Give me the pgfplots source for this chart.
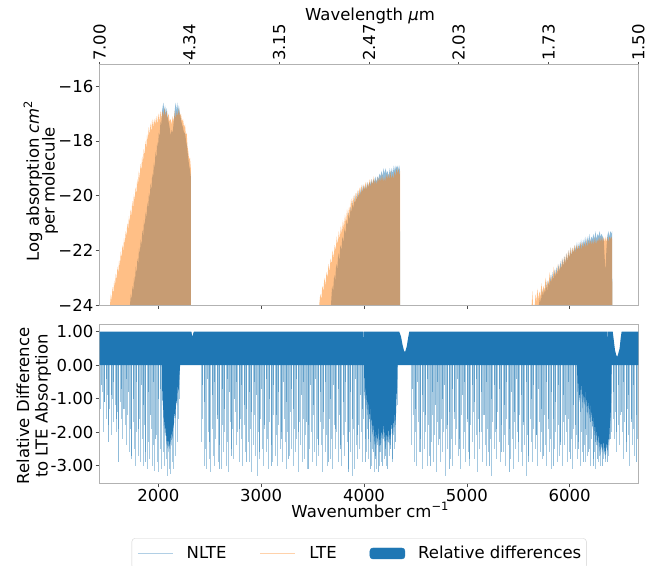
\documentclass[border=0pt]{standalone}
\usepackage{pgfplots}
\pgfplotsset{compat=1.18}
\usepackage{fontspec}
\setmainfont{DejaVu Sans}
\definecolor{tabblue}{HTML}{1F77B4}
\definecolor{taborange}{HTML}{FF7F0E}
\newcommand{\fs}{\fontsize{16.5}{19}\selectfont}
\begin{document}
\begin{tikzpicture}[x=1pt,y=1pt]
\useasboundingbox (0pt,0pt) rectangle (666pt,565pt);
\pgfplotsset{myax/.style={
  scale only axis, width=538.8pt,
  xmin=1428.57, xmax=6666.67,
  axis line style={black!30, line width=0.8pt},
  every tick/.style={black!70, line width=0.7pt},
  tick align=outside, major tick length=4pt,
  ticklabel style={font=\fs},
  yticklabel style={inner xsep=2pt},
  xticklabel style={inner ysep=1.5pt},
  /pgf/number format/assume math mode=true,
}}
% ---------------- top panel ----------------
\begin{axis}[myax, at={(99.5pt,260pt)}, anchor=south west, height=241pt,
  ymin=-24, ymax=-15.19,
  ytick={-24,-22,-20,-18,-16}, yticklabels={−24,−22,−20,−18,−16},
  xtick={2000,3000,4000,5000,6000}, xticklabel=\empty,
  xtick pos=left, ytick pos=left]
% NLTE
\addplot[fill=tabblue, fill opacity=0.5, draw=none] coordinates {
(1725,-24) (1733,-23.6) (1741,-23.8) (1749,-23.3) (1757,-23.5) (1765,-22.95) (1773,-23.2) (1781,-22.6) (1789,-22.85) (1797,-22.3) (1805,-22.5) (1813,-21.9) (1821,-22.15) (1829,-21.6) (1837,-21.85) (1845,-21.25) (1853,-21.5) (1861,-20.9) (1869,-21.15) (1877,-20.6) (1885,-20.8) (1893,-20.25) (1901,-20.5) (1909,-19.9) (1917,-20.1) (1925,-19.55) (1933,-19.8) (1941,-19.2) (1949,-19.4) (1957,-18.8) (1965,-19.0) (1973,-18.4) (1981,-18.65) (1989,-18.05) (1997,-18.25) (2005,-17.7) (2013,-17.85) (2021,-17.3) (2029,-17.4) (2037,-16.9) (2045,-16.7) (2050,-16.6) (2058,-16.9) (2066,-16.7) (2074,-17.0) (2082,-16.8) (2090,-17.1) (2100,-17.3) (2110,-17.5) (2120,-17.8) (2130,-17.6) (2140,-17.7) (2150,-17.3) (2160,-16.9) (2168,-16.6) (2176,-16.9) (2184,-16.6) (2192,-16.9) (2200,-16.7) (2210,-17.0) (2220,-17.2) (2230,-17.4) (2240,-17.5) (2250,-17.7) (2260,-17.7) (2270,-18.0) (2280,-18.2) (2290,-18.6) (2300,-18.9) (2310,-19.1) (2316,-19.3) (2318,-24)};
\addplot[fill=tabblue, fill opacity=0.5, draw=none] coordinates {
(3679,-24) (3690,-23.3) (3700,-23.5) (3710,-22.9) (3720,-23.1) (3730,-22.5) (3740,-22.7) (3750,-22.1) (3760,-22.4) (3770,-21.8) (3780,-22.0) (3790,-21.5) (3800,-21.7) (3810,-21.2) (3820,-21.4) (3830,-20.9) (3840,-21.1) (3850,-20.6) (3860,-20.9) (3870,-20.4) (3880,-20.6) (3890,-20.2) (3900,-20.5) (3910,-20.0) (3920,-20.3) (3930,-19.9) (3940,-20.1) (3950,-19.8) (3960,-20.0) (3970,-19.7) (3980,-19.9) (3990,-19.6) (4000,-19.8) (4010,-19.6) (4020,-19.8) (4030,-19.5) (4040,-19.7) (4050,-19.5) (4060,-19.6) (4070,-19.4) (4080,-19.6) (4090,-19.4) (4100,-19.5) (4110,-19.3) (4120,-19.5) (4130,-19.3) (4140,-19.4) (4150,-19.2) (4160,-19.3) (4170,-19.1) (4180,-19.3) (4190,-19.0) (4200,-19.2) (4210,-19.0) (4220,-19.2) (4230,-19.1) (4240,-19.3) (4250,-19.0) (4260,-19.2) (4270,-19.0) (4280,-19.2) (4290,-18.9) (4300,-19.1) (4310,-18.9) (4320,-19.0) (4330,-18.9) (4340,-19.1) (4348,-18.9) (4352,-24)};
\addplot[fill=tabblue, fill opacity=0.5, draw=none] coordinates {
(5700,-24) (5710,-23.7) (5720,-23.9) (5730,-23.4) (5740,-23.7) (5750,-23.4) (5760,-23.6) (5770,-23.1) (5780,-23.5) (5790,-23.1) (5800,-23.3) (5810,-22.9) (5820,-23.2) (5830,-22.8) (5840,-23.1) (5850,-22.7) (5860,-23.0) (5870,-22.6) (5880,-22.9) (5890,-22.5) (5900,-22.8) (5910,-22.4) (5920,-22.7) (5930,-22.3) (5940,-22.6) (5950,-22.2) (5960,-22.5) (5970,-22.1) (5980,-22.4) (5990,-22.0) (6000,-22.3) (6010,-21.9) (6020,-22.2) (6030,-21.9) (6040,-22.1) (6050,-21.8) (6060,-22.0) (6070,-21.7) (6080,-22.0) (6090,-21.7) (6100,-21.9) (6110,-21.6) (6120,-21.9) (6130,-21.6) (6140,-21.8) (6150,-21.5) (6160,-21.8) (6170,-21.5) (6180,-21.7) (6190,-21.4) (6200,-21.7) (6210,-21.5) (6220,-21.6) (6230,-21.4) (6240,-21.6) (6250,-21.3) (6260,-21.6) (6270,-21.4) (6280,-21.5) (6290,-21.3) (6300,-21.5) (6310,-21.4) (6320,-21.5) (6330,-21.6) (6340,-22.3) (6348,-22.8) (6356,-22.0) (6365,-21.5) (6375,-21.3) (6385,-21.5) (6395,-21.3) (6405,-21.4) (6412,-21.3) (6414,-24)};
% LTE
\addplot[fill=taborange, fill opacity=0.5, draw=none] coordinates {
(1531,-24) (1539,-23.6) (1547,-23.85) (1555,-23.35) (1563,-23.6) (1571,-23.1) (1579,-23.35) (1587,-22.85) (1595,-23.1) (1603,-22.6) (1611,-22.85) (1619,-22.35) (1627,-22.6) (1635,-22.05) (1643,-22.3) (1651,-21.8) (1659,-22.05) (1667,-21.55) (1675,-21.8) (1683,-21.3) (1691,-21.5) (1699,-21.0) (1707,-21.25) (1715,-20.75) (1723,-21.0) (1731,-20.5) (1739,-20.75) (1747,-20.2) (1755,-20.5) (1763,-19.95) (1771,-20.2) (1779,-19.7) (1787,-19.95) (1795,-19.4) (1803,-19.65) (1811,-19.1) (1819,-19.4) (1827,-18.85) (1835,-19.1) (1843,-18.55) (1851,-18.85) (1859,-18.3) (1867,-18.55) (1875,-18.0) (1883,-18.3) (1891,-17.75) (1899,-18.0) (1907,-17.5) (1915,-17.8) (1923,-17.35) (1932,-17.7) (1940,-17.2) (1950,-17.5) (1960,-17.2) (1970,-17.4) (1980,-17.1) (1990,-17.4) (2000,-17.0) (2010,-17.3) (2020,-16.9) (2030,-17.2) (2040,-16.9) (2050,-17.1) (2060,-16.8) (2070,-17.1) (2080,-16.9) (2090,-17.2) (2100,-17.0) (2110,-17.3) (2120,-17.2) (2130,-17.4) (2140,-17.1) (2150,-17.3) (2160,-16.9) (2170,-17.2) (2180,-16.9) (2190,-17.1) (2200,-16.8) (2210,-17.1) (2220,-17.0) (2230,-17.3) (2240,-17.2) (2250,-17.5) (2260,-17.4) (2268,-17.8) (2276,-17.7) (2284,-18.2) (2292,-18.4) (2300,-18.7) (2308,-18.6) (2316,-19.0) (2318,-24)};
\addplot[fill=taborange, fill opacity=0.5, draw=none] coordinates {
(3565,-24) (3575,-23.6) (3585,-23.8) (3595,-23.3) (3605,-23.5) (3615,-23.0) (3625,-23.3) (3635,-22.8) (3645,-23.0) (3655,-22.5) (3665,-22.8) (3675,-22.3) (3685,-22.5) (3695,-22.0) (3705,-22.3) (3715,-21.8) (3725,-22.0) (3735,-21.5) (3745,-21.8) (3755,-21.3) (3765,-21.6) (3775,-21.1) (3785,-21.4) (3795,-20.9) (3805,-21.2) (3815,-20.7) (3825,-21.0) (3835,-20.5) (3845,-20.8) (3855,-20.4) (3865,-20.6) (3875,-20.1) (3885,-20.4) (3895,-20.0) (3905,-20.3) (3915,-19.9) (3925,-20.2) (3935,-19.8) (3945,-20.1) (3955,-19.7) (3965,-20.0) (3975,-19.6) (3985,-19.9) (3995,-19.6) (4005,-19.8) (4015,-19.5) (4025,-19.8) (4035,-19.5) (4045,-19.7) (4055,-19.4) (4065,-19.7) (4075,-19.4) (4085,-19.6) (4095,-19.3) (4105,-19.6) (4115,-19.4) (4125,-19.6) (4135,-19.3) (4145,-19.5) (4155,-19.3) (4165,-19.5) (4175,-19.2) (4185,-19.5) (4195,-19.3) (4205,-19.5) (4215,-19.2) (4225,-19.4) (4235,-19.2) (4245,-19.4) (4255,-19.1) (4265,-19.4) (4275,-19.2) (4285,-19.4) (4295,-19.1) (4305,-19.3) (4315,-19.0) (4325,-19.2) (4335,-19.0) (4345,-19.3) (4350,-19.1) (4352,-24)};
\addplot[fill=taborange, fill opacity=0.5, draw=none] coordinates {
(5630,-24) (5638,-23.5) (5642,-24) (5660,-24) (5668,-23.6) (5676,-23.9) (5685,-23.4) (5695,-23.8) (5705,-23.5) (5715,-23.7) (5725,-23.2) (5735,-23.6) (5745,-23.3) (5755,-23.5) (5765,-23.0) (5775,-23.4) (5785,-23.1) (5795,-23.3) (5805,-22.8) (5815,-23.2) (5825,-22.9) (5835,-23.1) (5845,-22.6) (5855,-23.0) (5865,-22.7) (5875,-22.9) (5885,-22.5) (5895,-22.8) (5905,-22.5) (5915,-22.7) (5925,-22.3) (5935,-22.6) (5945,-22.2) (5955,-22.5) (5965,-22.1) (5975,-22.4) (5985,-22.0) (5995,-22.3) (6005,-21.9) (6015,-22.2) (6025,-21.9) (6035,-22.1) (6045,-21.8) (6055,-22.1) (6065,-21.8) (6075,-22.0) (6085,-21.8) (6095,-22.0) (6105,-21.7) (6115,-22.0) (6125,-21.7) (6135,-21.9) (6145,-21.7) (6155,-21.9) (6165,-21.6) (6175,-21.9) (6185,-21.6) (6195,-21.8) (6205,-21.6) (6215,-21.8) (6225,-21.6) (6235,-21.8) (6245,-21.5) (6255,-21.8) (6265,-21.6) (6275,-21.7) (6285,-21.5) (6295,-21.7) (6305,-21.5) (6315,-21.7) (6325,-21.5) (6335,-21.7) (6345,-21.5) (6355,-21.7) (6365,-21.5) (6375,-21.7) (6385,-21.5) (6395,-21.6) (6405,-21.5) (6412,-21.6) (6414,-24)};
\end{axis}
% top wavelength axis
\begin{axis}[myax, at={(99.5pt,260pt)}, anchor=south west, height=241pt,
  ymin=0, ymax=1, axis y line=none, axis x line*=top,
  major tick length=2pt,
  xtick={1428.57,2301.59,3174.60,4047.62,4920.63,5793.65,6666.67},
  xticklabels={7.00,4.34,3.15,2.47,2.03,1.73,1.50},
  xticklabel style={rotate=90, anchor=west, inner sep=1pt}]
\end{axis}
% ---------------- bottom panel ----------------
\begin{axis}[myax, at={(99.5pt,81.7pt)}, anchor=south west, height=159.3pt,
  ymin=-3.53, ymax=1.23,
  ytick={-3,-2,-1,0,1}, yticklabels={-3.00,-2.00,-1.00,0.00,1.00},
  xtick={2000,3000,4000,5000,6000}, xticklabels={2000,3000,4000,5000,6000},
  xtick pos=left, ytick pos=left,
  legend columns=3,
  legend style={at={(0.0598,-0.345)}, anchor=north west,
    draw=black!18, rounded corners=3pt, fill=white,
    inner xsep=5pt, inner ysep=7pt,
    nodes={font=\fs, inner xsep=0pt, inner ysep=1pt},
    /tikz/every odd column/.append style={column sep=13pt},
    /tikz/every even column/.append style={column sep=33pt}}]
\addplot[fill=tabblue, draw=none, forget plot] coordinates {
(1428.6,0) (1428.6,1) (2322,1) (2328,0.9) (2334,0.86) (2340,0.95) (2346,1) (3995,1) (3998,0.55) (4001,1) (4343,1) (4360,0.85) (4375,0.6) (4390,0.42) (4400,0.4) (4415,0.55) (4428,0.8) (4440,1) (6365,1) (6368,0.7) (6371,1) (6418,1) (6430,0.7) (6440,0.45) (6452,0.3) (6462,0.25) (6472,0.35) (6485,0.5) (6495,0.8) (6504,1) (6666.7,1) (6666.7,0)};
\addplot[fill=tabblue, draw=none, forget plot] coordinates {
(2036,0) (2040,-1.2) (2044,-0.6) (2048,-1.6) (2052,-1.1) (2056,-1.9) (2060,-1.5) (2066,-2.1) (2072,-1.8) (2078,-2.4) (2084,-2.0) (2090,-2.5) (2096,-2.2) (2102,-2.6) (2108,-2.3) (2114,-2.5) (2120,-2.1) (2126,-2.4) (2132,-2.0) (2138,-2.2) (2144,-1.7) (2150,-1.9) (2158,-1.4) (2166,-1.6) (2174,-1.0) (2182,-1.2) (2190,-0.6) (2198,-0.8) (2206,-0.3) (2212,0)};
\addplot[fill=tabblue, draw=none, forget plot] coordinates {
(4000,0) (4006,-1.0) (4012,-0.5) (4020,-1.3) (4028,-0.8) (4036,-1.5) (4044,-1.0) (4052,-1.7) (4060,-1.2) (4068,-1.9) (4076,-1.5) (4084,-2.1) (4092,-1.7) (4100,-2.4) (4108,-1.9) (4116,-2.5) (4124,-2.0) (4132,-2.3) (4140,-1.8) (4148,-2.6) (4156,-2.0) (4164,-2.4) (4172,-1.9) (4180,-2.2) (4188,-1.7) (4196,-2.3) (4204,-1.9) (4212,-2.5) (4220,-2.0) (4228,-2.3) (4236,-1.8) (4244,-2.4) (4252,-2.0) (4260,-2.2) (4268,-1.7) (4276,-2.1) (4284,-1.6) (4292,-2.0) (4300,-1.4) (4308,-1.7) (4316,-1.0) (4322,-0.6) (4326,0)};
\addplot[fill=tabblue, draw=none, forget plot] coordinates {
(6070,0) (6078,-0.8) (6086,-0.4) (6094,-1.1) (6102,-0.6) (6110,-1.0) (6118,-0.5) (6126,-1.3) (6134,-0.8) (6142,-1.2) (6150,-0.7) (6158,-1.4) (6166,-0.9) (6174,-1.5) (6182,-1.0) (6190,-1.6) (6198,-1.1) (6206,-1.7) (6214,-1.3) (6222,-1.9) (6230,-1.5) (6238,-2.1) (6246,-1.7) (6254,-2.3) (6262,-1.9) (6270,-2.4) (6278,-2.0) (6286,-2.6) (6294,-2.2) (6302,-2.7) (6310,-2.3) (6318,-2.6) (6326,-2.2) (6334,-2.7) (6342,-2.4) (6350,-2.8) (6358,-2.3) (6366,-2.6) (6374,-2.1) (6382,-2.4) (6390,-1.8) (6398,-1.5) (6404,-0.8) (6407,0)};
\addplot[ycomb, draw=tabblue, opacity=0.4, line width=0.5pt, forget plot] coordinates {
(1440,-1.3) (1452,-0.8) (1465,-2.0) (1478,-1.1) (1490,-1.6) (1503,-0.9) (1515,-1.8) (1528,-1.3) (1540,-2.1) (1553,-1.0) (1566,-1.7) (1578,-1.2) (1590,-2.0) (1603,-1.4) (1615,-1.9) (1628,-1.1) (1640,-1.6) (1653,-2.2) (1665,-1.3) (1678,-1.8) (1690,-2.4) (1703,-1.5) (1715,-2.6) (1728,-1.9) (1740,-2.8) (1752,-1.7) (1765,-2.5) (1778,-3.0) (1790,-2.0) (1803,-2.7) (1815,-1.6) (1828,-2.9) (1840,-2.2) (1852,-3.0) (1865,-1.8) (1878,-2.6) (1890,-3.1) (1903,-2.3) (1915,-2.8) (1928,-1.9) (1940,-3.0) (1953,-2.4) (1965,-3.15) (1978,-2.1) (1990,-2.9) (2003,-3.2) (2015,-2.5) (2028,-3.1)
(2045,-2.6) (2060,-3.0) (2075,-2.8) (2090,-3.3) (2105,-3.1) (2120,-3.25) (2135,-2.9) (2150,-3.1) (2165,-2.7) (2180,-2.3) (2195,-1.6) (2208,-1.0)
(2420,-2.3) (2432,-1.6) (2445,-3.0) (2458,-2.5) (2470,-3.1) (2483,-2.0) (2495,-2.8) (2508,-3.2) (2520,-1.9) (2533,-2.7) (2545,-3.0) (2558,-2.2) (2570,-1.5) (2583,-2.9) (2595,-2.4) (2608,-3.1) (2620,-1.8) (2633,-2.6) (2645,-2.0) (2658,-3.0) (2670,-2.3) (2683,-3.2) (2695,-1.7) (2708,-2.5) (2720,-1.9) (2733,-2.8) (2745,-1.4) (2758,-2.4) (2770,-2.0) (2783,-2.9) (2795,-1.6) (2808,-2.2) (2820,-3.0) (2833,-1.8) (2845,-2.6) (2858,-1.3) (2870,-2.3) (2883,-2.9) (2895,-1.9) (2908,-3.2) (2920,-2.4) (2933,-1.5) (2945,-2.7) (2958,-3.3) (2970,-2.0) (2983,-2.8) (2995,-1.6) (3008,-2.5) (3020,-3.0) (3033,-1.9) (3045,-2.6) (3058,-2.2) (3070,-3.1) (3083,-1.7) (3095,-2.4) (3108,-2.9) (3120,-1.5) (3133,-2.7) (3145,-2.1) (3158,-3.0) (3170,-1.8) (3183,-2.5) (3195,-2.0) (3208,-2.9) (3220,-1.6) (3233,-2.3) (3245,-3.1) (3258,-2.0) (3270,-2.7) (3283,-1.4) (3295,-2.5) (3308,-3.0) (3320,-1.9) (3333,-2.6) (3345,-2.2) (3358,-3.2) (3370,-1.7) (3383,-2.4) (3395,-2.9) (3408,-1.6) (3420,-2.8) (3433,-2.1) (3445,-3.1) (3458,-1.8) (3470,-2.5) (3483,-2.0) (3495,-2.9) (3508,-1.5) (3520,-2.6) (3533,-3.0) (3545,-2.2) (3558,-2.7) (3570,-1.7) (3583,-2.4) (3595,-3.2) (3608,-1.9) (3620,-2.6) (3633,-2.1) (3645,-3.0) (3658,-1.6) (3670,-2.8) (3683,-2.2) (3695,-3.1) (3708,-1.8) (3720,-2.5) (3733,-2.0) (3745,-2.9) (3758,-1.5) (3770,-2.4) (3783,-3.0) (3795,-2.1) (3808,-2.7) (3820,-1.7) (3833,-2.3) (3845,-3.1) (3858,-2.0) (3870,-2.6) (3883,-3.3) (3895,-1.9) (3908,-3.1) (3920,-2.4) (3933,-2.8) (3945,-1.8) (3958,-2.5) (3970,-2.0) (3983,-2.9) (3995,-1.6)
(4008,-2.2) (4020,-2.6) (4033,-1.9) (4045,-2.8) (4058,-2.3) (4070,-3.0) (4083,-2.5) (4095,-3.2) (4108,-2.7) (4120,-3.1) (4133,-2.4) (4145,-3.0) (4158,-2.6) (4170,-2.9) (4183,-2.2) (4195,-2.8) (4208,-2.5) (4220,-3.0) (4233,-2.3) (4245,-2.7) (4258,-2.4) (4270,-2.9) (4283,-2.1) (4295,-2.5) (4308,-1.8) (4320,-1.2)
(4462,-2.4) (4475,-1.5) (4487,-2.9) (4500,-2.0) (4512,-3.0) (4525,-1.7) (4537,-2.6) (4550,-2.2) (4562,-3.1) (4575,-1.4) (4587,-2.5) (4600,-2.0) (4612,-3.0) (4625,-1.8) (4637,-2.7) (4650,-2.3) (4662,-1.5) (4675,-2.9) (4687,-2.1) (4700,-3.2) (4712,-1.7) (4725,-2.4) (4737,-2.9) (4750,-1.6) (4762,-2.6) (4775,-2.0) (4787,-3.3) (4800,-1.9) (4812,-2.5) (4825,-1.4) (4837,-2.8) (4850,-2.2) (4862,-3.0) (4875,-1.6) (4887,-2.4) (4900,-1.9) (4912,-2.7) (4925,-2.2) (4937,-3.1) (4950,-1.5) (4962,-2.5) (4975,-2.0) (4987,-2.9) (5000,-1.7) (5012,-2.6) (5025,-3.0) (5037,-1.8) (5050,-2.3) (5062,-1.4) (5075,-2.8) (5087,-2.1) (5100,-3.2) (5112,-1.6) (5125,-2.5) (5137,-2.0) (5150,-2.9) (5162,-1.5) (5175,-2.4) (5187,-3.0) (5200,-1.9) (5212,-2.6) (5225,-2.2) (5237,-3.3) (5250,-1.7) (5262,-2.5) (5275,-2.0) (5287,-2.8) (5300,-1.4) (5312,-2.3) (5325,-2.9) (5337,-1.8) (5350,-2.6) (5362,-2.1) (5375,-3.0) (5387,-1.6) (5400,-2.4) (5412,-1.9) (5425,-2.8) (5437,-2.2) (5450,-3.1) (5462,-1.7) (5475,-2.5) (5487,-2.0) (5500,-2.9) (5512,-1.5) (5525,-2.6) (5537,-3.0) (5550,-1.8) (5562,-2.4) (5575,-3.3) (5587,-2.1) (5600,-2.7) (5612,-1.6) (5625,-2.3) (5637,-2.9) (5650,-1.9) (5662,-2.5) (5675,-2.1) (5687,-3.0) (5700,-1.7) (5712,-2.6) (5725,-2.0) (5737,-2.8) (5750,-1.5) (5762,-2.4) (5775,-3.0) (5787,-1.9) (5800,-2.6) (5812,-2.2) (5825,-3.1) (5837,-1.6) (5850,-2.5) (5862,-2.0) (5875,-2.9) (5887,-1.8) (5900,-2.7) (5912,-2.3) (5925,-3.0) (5937,-1.7) (5950,-2.4) (5962,-2.0) (5975,-2.9) (5987,-1.6) (6000,-2.6) (6012,-2.2) (6025,-3.1) (6037,-1.9) (6050,-2.5) (6062,-2.1) (6075,-2.8) (6087,-2.3) (6100,-3.0) (6112,-2.0) (6125,-2.6) (6137,-2.4) (6150,-2.9) (6162,-2.1) (6175,-2.7) (6187,-2.5) (6200,-3.0) (6212,-2.2) (6225,-2.8) (6237,-2.6) (6250,-3.1) (6262,-2.4) (6275,-2.9) (6287,-2.7) (6300,-3.0) (6312,-2.5) (6325,-2.8) (6337,-2.6) (6350,-2.9) (6362,-2.4) (6375,-2.7) (6387,-2.2) (6400,-2.0)
(6420,-1.6) (6432,-2.2) (6445,-1.4) (6457,-2.6) (6470,-1.8) (6482,-2.4) (6495,-1.5) (6507,-2.0) (6520,-2.8) (6532,-1.7) (6545,-2.3) (6557,-1.3) (6570,-2.1) (6582,-3.0) (6595,-1.6) (6607,-2.4) (6620,-1.9) (6632,-2.7) (6645,-1.5) (6657,-2.2)};
\addplot[ycomb, draw=tabblue, opacity=0.5, line width=0.5pt, forget plot] coordinates {
(1446,-0.6) (1470,-1.1) (1494,-0.4) (1518,-2.3) (1542,-0.9) (1566,-0.5) (1590,-1.6) (1614,-2.9) (1638,-0.7) (1662,-1.3) (1686,-0.4) (1710,-0.8) (1734,-2.7) (1758,-1.0) (1782,-0.5) (1806,-1.9) (1830,-0.6) (1854,-1.2) (1878,-2.9) (1902,-0.8) (1926,-1.5) (1950,-0.5) (1974,-2.2) (1998,-1.0) (2022,-0.7)
(2426,-0.6) (2450,-1.1) (2474,-0.4) (2498,-2.3) (2522,-0.9) (2546,-0.5) (2570,-1.6) (2594,-3.1) (2618,-0.7) (2642,-1.3) (2666,-0.4) (2690,-0.8) (2714,-2.7) (2738,-1.0) (2762,-0.5) (2786,-1.9) (2810,-0.6) (2834,-1.2) (2858,-2.9) (2882,-0.8)
(2906,-1.4) (2930,-0.5) (2954,-0.9) (2978,-2.6) (3002,-0.7) (3026,-1.8) (3050,-0.4) (3074,-1.0) (3098,-3.0) (3122,-0.6) (3146,-1.5) (3170,-0.8) (3194,-2.2) (3218,-0.5) (3242,-1.1) (3266,-2.8) (3290,-0.7) (3314,-1.3) (3338,-0.4) (3362,-2.0)
(3386,-0.9) (3410,-0.5) (3434,-1.7) (3458,-3.1) (3482,-0.6) (3506,-1.2) (3530,-0.4) (3554,-2.4) (3578,-0.8) (3602,-1.4) (3626,-0.5) (3650,-2.9) (3674,-1.0) (3698,-0.6) (3722,-1.9) (3746,-0.7) (3770,-2.5) (3794,-1.1) (3818,-0.5) (3842,-3.2)
(3866,-0.8) (3890,-1.6) (3914,-0.4) (3938,-2.1) (3962,-0.9) (3986,-1.3)
(4014,-2.9) (4038,-2.2) (4062,-3.1) (4086,-2.6) (4110,-2.8) (4134,-3.2) (4158,-2.4) (4182,-3.0) (4206,-2.7) (4230,-3.1) (4254,-2.5) (4278,-2.8) (4302,-2.3)
(4472,-0.7) (4496,-1.3) (4520,-0.5) (4544,-2.6) (4568,-0.9) (4592,-1.5) (4616,-0.4) (4640,-3.0) (4664,-0.8) (4688,-1.2) (4712,-0.5) (4736,-2.2) (4760,-1.0) (4784,-0.6) (4808,-1.8) (4832,-3.1) (4856,-0.7) (4880,-1.4) (4904,-0.4) (4928,-2.5)
(4952,-0.9) (4976,-0.5) (5000,-1.6) (5024,-2.8) (5048,-0.6) (5072,-1.1) (5096,-0.4) (5120,-2.0) (5144,-0.8) (5168,-1.5) (5192,-0.5) (5216,-3.0) (5240,-1.0) (5264,-0.6) (5288,-1.9) (5312,-0.7) (5336,-2.6) (5360,-1.2) (5384,-0.5) (5408,-3.2)
(5432,-0.8) (5456,-1.4) (5480,-0.4) (5504,-2.3) (5528,-0.9) (5552,-1.7) (5576,-0.5) (5600,-2.9) (5624,-1.0) (5648,-0.6) (5672,-2.1) (5696,-0.7) (5720,-1.3) (5744,-2.7) (5768,-0.5) (5792,-1.6) (5816,-0.8) (5840,-3.0) (5864,-1.1) (5888,-0.6)
(5912,-2.4) (5936,-0.9) (5960,-1.5) (5984,-0.5) (6008,-2.8) (6032,-1.2) (6056,-1.8) (6080,-2.5) (6104,-1.4) (6128,-2.9) (6152,-1.9) (6176,-2.6) (6200,-1.7) (6224,-3.0) (6248,-2.3) (6272,-2.8) (6296,-2.1) (6320,-3.0) (6344,-2.5) (6368,-2.9) (6392,-2.2)
(6426,-0.8) (6450,-2.0) (6474,-0.6) (6498,-1.4) (6522,-0.5) (6546,-2.6) (6570,-0.9) (6594,-1.7) (6618,-0.6) (6642,-2.9)};
\addlegendimage{legend image code/.code={\draw[color=tabblue!35, line width=1.8pt] (0pt,0pt) -- (35pt,0pt);}}
\addlegendentry{NLTE}
\addlegendimage{legend image code/.code={\draw[color=taborange!35, line width=1.8pt] (0pt,0pt) -- (35pt,0pt);}}
\addlegendentry{LTE}
\addlegendimage{legend image code/.code={\fill[tabblue] (0pt,-5.5pt) rectangle (35pt,5.5pt);}}
\addlegendentry{Relative differences}
\end{axis}
% ---------------- labels ----------------
\node[font=\fs, anchor=base] at (370pt,544.5pt) {Wavelength \textit{μ}m};
\node[font=\fs, anchor=base] at (370pt,47.7pt) {Wavenumber cm\raisebox{0.75ex}{\fontsize{11.5}{12}\selectfont −1}};
\node[font=\fs, rotate=90] at (33pt,384pt) {Log absorption \textit{cm}\raisebox{0.75ex}{\fontsize{11.5}{12}\selectfont 2}};
\node[font=\fs, rotate=90] at (50pt,384pt) {per molecule};
\node[font=\fs, rotate=90] at (23pt,159pt) {Relative Difference};
\node[font=\fs, rotate=90] at (43pt,159pt) {to LTE Absorption};
\end{tikzpicture}
\end{document}
